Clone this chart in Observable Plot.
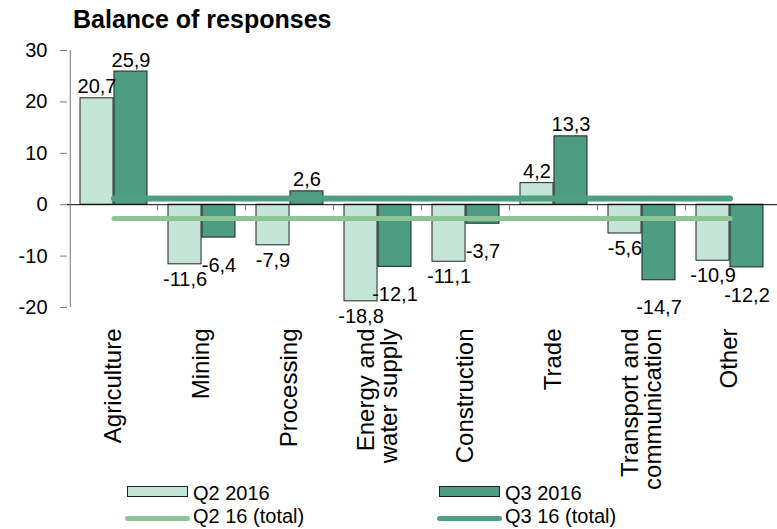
<!DOCTYPE html>
<html><head><meta charset="utf-8">
<script src="https://cdn.jsdelivr.net/npm/d3@7"></script>
<script src="https://cdn.jsdelivr.net/npm/@observablehq/plot@0.6"></script>
<style>
body{margin:0;background:#fff;font-family:"Liberation Sans",Arial,sans-serif;color:#000;}
#wrap{position:relative;width:777px;height:529px;overflow:hidden;}
#title{position:absolute;left:73px;top:4px;font-weight:bold;font-size:25px;line-height:30px;white-space:nowrap;}
#chart{position:absolute;left:0;top:38px;}
.sw{position:absolute;box-sizing:border-box;}
.lt{position:absolute;font-size:20px;line-height:20px;white-space:nowrap;}
</style></head><body>
<div id="wrap">
<div id="title">Balance of responses</div>
<div id="chart"></div>
<div id="legend"></div>
</div>
<script>
const categories = ["Agriculture","Mining","Processing","Energy and\nwater supply","Construction","Trade","Transport and\ncommunication","Other"];
const seriesNames = ["Q2 2016","Q3 2016"];
const q2_2016 = [20.7,-11.6,-7.9,-18.8,-11.1,4.2,-5.6,-10.9];
const q3_2016 = [25.9,-6.4,2.6,-12.1,-3.7,13.3,-14.7,-12.2];
const totalNames = ["Q2 16 (total)","Q3 16 (total)"];
const totalQ2 = -2.7;
const totalQ3 = 1.2;
const yTicks = [-20,-10,0,10,20,30];

const C = {q2bar:"#c3e4d6", q3bar:"#4e9c81", q2line:"#8ec597", q3line:"#509f82", edge:"#222"};
const W = 777, H = 444, mL = 67, mR = 0, mT = 12, mB = 175;
const pIn = 0.236, pOut = 0.11;
const step = (W - mL - mR) / (categories.length - pIn + 2 * pOut);
const bw = step * (1 - pIn);
const half = bw / 2;
const fmt = v => v.toFixed(1).replace(".", ",");

const rows = categories.flatMap((c, i) => [
  {cat: c, s: seriesNames[0], v: q2_2016[i]},
  {cat: c, s: seriesNames[1], v: q3_2016[i]}
]);
const q2 = rows.filter(d => d.s === seriesNames[0]);
const q3 = rows.filter(d => d.s === seriesNames[1]);

function labels(data, dx, negDy) {
  return [
    Plot.text(data.filter(d => d.v >= 0), {x: "cat", y: "v", text: d => fmt(d.v), dx, dy: -5, lineAnchor: "bottom", fontSize: 20, fill: "#000"}),
    Plot.text(data.filter(d => d.v < 0), {x: "cat", y: "v", text: d => fmt(d.v), dx, dy: negDy, lineAnchor: "top", fontSize: 20, fill: "#000"})
  ];
}

const chart = Plot.plot({
  width: W, height: H,
  marginLeft: mL, marginRight: mR, marginTop: mT, marginBottom: mB,
  style: {fontFamily: "Liberation Sans, Arial, sans-serif", fontSize: "20px", color: "#000", background: "transparent", overflow: "visible"},
  x: {domain: categories, paddingInner: pIn, paddingOuter: pOut, axis: null, label: null},
  y: {domain: [-20, 30], axis: null, label: null},
  marks: [
    Plot.barY(q2, {x: "cat", y: "v", fill: C.q2bar, stroke: C.edge, strokeWidth: 1, insetRight: half}),
    Plot.barY(q3, {x: "cat", y: "v", fill: C.q3bar, stroke: C.edge, strokeWidth: 1, insetLeft: half}),
    Plot.ruleY([0], {stroke: "#000", strokeWidth: 1}),
    Plot.ruleX(categories.slice(1), {x: d => d, dx: -step / 2, y1: 0, y2: -1.2, stroke: "#777"}),
    Plot.ruleX(categories.slice(0, 1), {x: d => d, dx: -(half + pOut * step), y1: -20, y2: 30, stroke: "#777"}),
    Plot.lineY(categories, {x: d => d, y: () => totalQ2, stroke: C.q2line, strokeWidth: 5, strokeLinecap: "round"}),
    Plot.lineY(categories, {x: d => d, y: () => totalQ3, stroke: C.q3line, strokeWidth: 6, strokeLinecap: "round"}),
    ...labels(q2, -half / 2, 7),
    ...labels(q3, half / 2, 20),
    Plot.axisY({ticks: yTicks, tickSize: 7, tickPadding: 13, stroke: "#777", fill: "#000", fontSize: 20, label: null, tickFormat: d => String(d)}),
    Plot.axisX({tickSize: 0, tickPadding: 21, tickRotate: -90, fontSize: 24, lineHeight: 0.95, fill: "#000", label: null})
  ]
});
document.getElementById("chart").appendChild(chart);

const legend = document.getElementById("legend");
const items = [
  {type: "rect", name: seriesNames[0], color: C.q2bar, sx: 127, tx: 193, row: 0},
  {type: "rect", name: seriesNames[1], color: C.q3bar, sx: 439, tx: 505, row: 0},
  {type: "line", name: totalNames[0], color: C.q2line, sx: 125, tx: 193, row: 1},
  {type: "line", name: totalNames[1], color: C.q3line, sx: 437, tx: 505, row: 1}
];
items.forEach(it => {
  const sw = document.createElement("div");
  sw.className = "sw";
  if (it.type === "rect") {
    Object.assign(sw.style, {left: it.sx + "px", top: "486px", width: "61px", height: "11px", background: it.color, border: "1px solid " + C.edge});
  } else {
    Object.assign(sw.style, {left: it.sx + "px", top: "516px", width: "65px", height: "5px", background: it.color, borderRadius: "3px"});
  }
  legend.appendChild(sw);
  const t = document.createElement("div");
  t.className = "lt";
  t.textContent = it.name;
  Object.assign(t.style, {left: it.tx + "px", top: (it.row === 0 ? 483 : 506) + "px"});
  legend.appendChild(t);
});
</script>
</body></html>
